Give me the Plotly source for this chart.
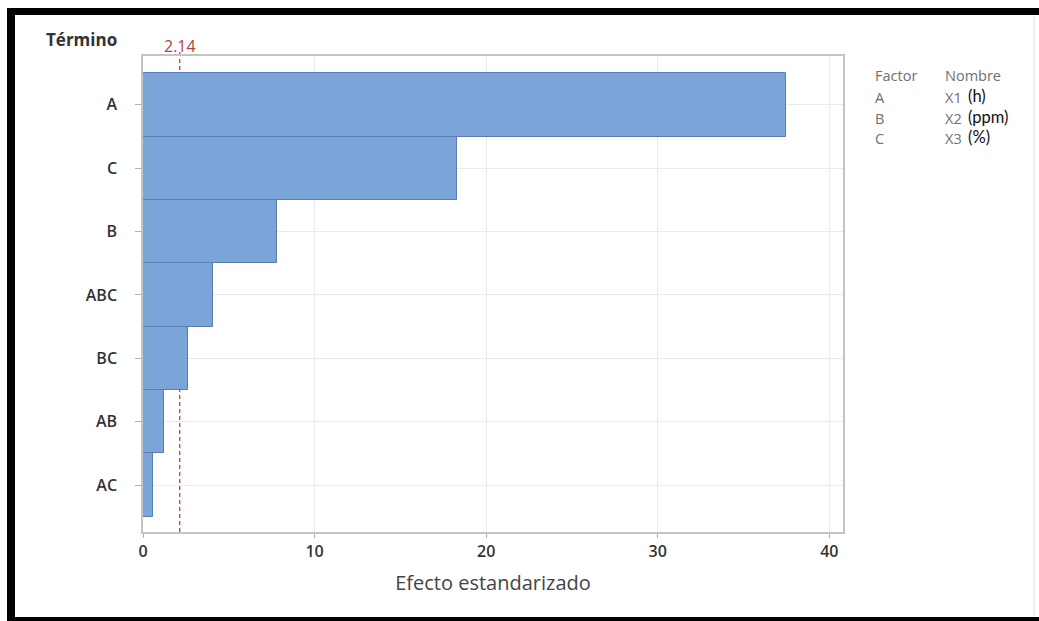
import plotly.graph_objects as go

# ---- data ----
terms = ["A", "C", "B", "ABC", "BC", "AB", "AC"]
effects = [37.5, 18.3, 7.8, 4.1, 2.6, 1.2, 0.6]
threshold = 2.14
factor_codes = ["A", "B", "C"]
factor_names = ["X1", "X2", "X3"]
factor_units = ["(h)", "(ppm)", "(%)"]
x_ticks = [0, 10, 20, 30, 40]

# ---- geometry (pixels) ----
W, H = 1039, 621
L, R, T, B = 143, 843, 56, 532


def px(x):
    return (x - L) / (R - L)


def py(y):
    return (B - y) / (B - T)


fig = go.Figure()
fig.add_trace(go.Bar(
    x=effects, y=terms, orientation="h", width=1.0,
    marker=dict(color="#7BA4D8", line=dict(color="#5A7CB0", width=1)),
    hoverinfo="x+y", showlegend=False,
))

shapes = [
    dict(type="line", xref="x", yref="paper", x0=threshold, x1=threshold,
         y0=0, y1=py(51), layer="below",
         line=dict(color="#C8302C", width=1.2, dash="4px,3px")),
    # black frame around the picture
    dict(type="rect", xref="paper", yref="paper", x0=px(7), x1=px(15), y0=py(621), y1=py(8),
         fillcolor="black", line=dict(width=0), layer="above"),
    dict(type="rect", xref="paper", yref="paper", x0=px(7), x1=px(1039), y0=py(15), y1=py(8),
         fillcolor="black", line=dict(width=0), layer="above"),
    dict(type="rect", xref="paper", yref="paper", x0=px(7), x1=px(1039), y0=py(621), y1=py(617),
         fillcolor="black", line=dict(width=0), layer="above"),
    dict(type="line", xref="paper", yref="paper", x0=px(1034), x1=px(1034), y0=py(617), y1=py(15),
         line=dict(color="#DDDDDD", width=1), layer="above"),
]

grey_font = dict(family="Open Sans", size=14.5, color="#707070")
annotations = [
    dict(text="<b>Término</b>", xref="paper", yref="paper", x=px(81), y=py(40),
         xanchor="center", yanchor="middle", showarrow=False,
         font=dict(family="Open Sans", size=17, color="#333333")),
    dict(text=f"{threshold:.2f}", xref="x", yref="paper", x=threshold, y=py(46),
         xanchor="center", yanchor="middle", showarrow=False,
         font=dict(family="Open Sans", size=16, color="#B5413F")),
    dict(text="Factor", xref="paper", yref="paper", x=px(873), y=py(76),
         xanchor="left", yanchor="middle", showarrow=False, font=grey_font),
    dict(text="Nombre", xref="paper", yref="paper", x=px(943), y=py(76),
         xanchor="left", yanchor="middle", showarrow=False, font=grey_font),
]
row_y = [97, 118, 138]
for code, name, unit, yy in zip(factor_codes, factor_names, factor_units, row_y):
    annotations.append(dict(text=code, xref="paper", yref="paper", x=px(873), y=py(yy),
                            xanchor="left", yanchor="middle", showarrow=False, font=grey_font))
    annotations.append(dict(text=name, xref="paper", yref="paper", x=px(943), y=py(yy),
                            xanchor="left", yanchor="middle", showarrow=False, font=grey_font))
    annotations.append(dict(text=unit, xref="paper", yref="paper", x=px(966), y=py(yy - 1),
                            xanchor="left", yanchor="middle", showarrow=False,
                            font=dict(family="Lato", size=16.5, color="#111111")))

fig.update_layout(
    width=W, height=H,
    margin=dict(l=L, r=W - R, t=T, b=H - B, pad=0),
    paper_bgcolor="white", plot_bgcolor="white",
    bargap=0,
    shapes=shapes,
    annotations=annotations,
    xaxis=dict(
        range=[0, 40.8], tickvals=x_ticks, ticktext=[str(v) for v in x_ticks],
        showgrid=True, gridcolor="#EBEBEB", gridwidth=1, zeroline=False,
        showline=True, linecolor="#C4C4C4", linewidth=1.5, mirror=True,
        ticks="outside", ticklen=4, tickcolor="#B0B0B0",
        tickfont=dict(family="Open Sans", size=16, color="#333333", weight=600),
        title=dict(text="Efecto estandarizado", standoff=15,
                   font=dict(family="Open Sans", size=20, color="#444444")),
    ),
    yaxis=dict(
        categoryorder="array", categoryarray=terms, range=[6.74, -0.77],
        showgrid=True, gridcolor="#EBEBEB", gridwidth=1, zeroline=False,
        showline=True, linecolor="#C4C4C4", linewidth=1.5, mirror=True,
        ticks="outside", ticklen=6, tickcolor="#B0B0B0",
        tickfont=dict(family="Open Sans", size=16, color="#333333", weight=600),
        ticklabelstandoff=15,
    ),
)

fig.write_html("out.html")
